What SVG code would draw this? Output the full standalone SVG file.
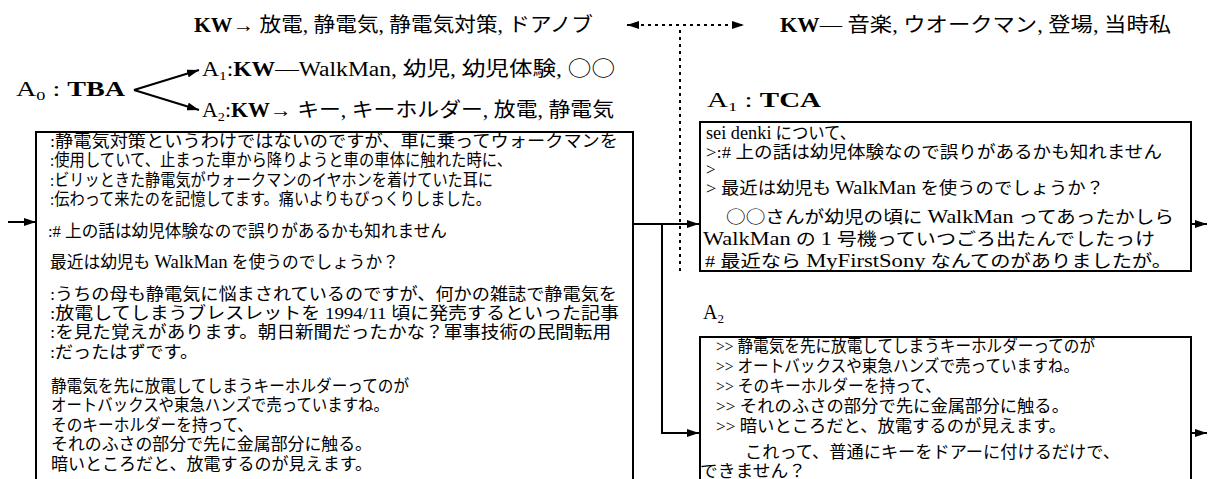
<svg xmlns="http://www.w3.org/2000/svg" width="1208" height="479" viewBox="0 0 1208 479">
<defs>
<marker id="ah" viewBox="0 0 12 8" refX="12" refY="4" markerWidth="12" markerHeight="8" markerUnits="userSpaceOnUse" orient="auto-start-reverse"><path d="M0,0 L12,4 L0,8 z" fill="#000"/></marker>
</defs>
<style>
.t{font-family:"Liberation Serif","Noto Sans CJK JP",serif;fill:#000}
.h{font-size:20px}
.j{font-family:"Liberation Serif","Noto Sans CJK JP",sans-serif;font-size:17px;fill:#000}
.l{font-size:19px}
.cj{font-family:"Noto Sans CJK JP",sans-serif}
.b{font-weight:bold}
.sub{font-size:13px}
.box{fill:#fff;stroke:#000;stroke-width:2}
.c{fill:none;stroke:#000;stroke-width:2}
.d{fill:none;stroke:#000;stroke-width:2;stroke-dasharray:3 4}
</style>

<g id="connectors">
<line class="d" x1="627" y1="25" x2="744" y2="25" marker-start="url(#ah)" marker-end="url(#ah)"/>
<line class="d" x1="680" y1="30" x2="680" y2="274"/>
<line class="c" x1="134" y1="90" x2="199" y2="70" marker-end="url(#ah)"/>
<line class="c" x1="134" y1="90" x2="199" y2="110" marker-end="url(#ah)"/>
<line class="c" x1="8" y1="222" x2="36" y2="222" marker-end="url(#ah)"/>
<line class="c" x1="633" y1="224" x2="699" y2="224" marker-end="url(#ah)"/>
<polyline class="c" points="662,224 662,433 699,433" marker-end="url(#ah)"/>
<line class="c" x1="1191" y1="224" x2="1207" y2="224" marker-end="url(#ah)"/>
<line class="c" x1="1191" y1="433" x2="1207" y2="433" marker-end="url(#ah)"/>
</g>

<g id="kw-main">
<text class="t h" x="194" y="32" textLength="399" lengthAdjust="spacingAndGlyphs"><tspan class="b">KW</tspan>→ 放電, 静電気, 静電気対策, ドアノブ</text>
</g>

<g id="kw-other">
<text class="t h" x="780" y="32" textLength="391" lengthAdjust="spacingAndGlyphs"><tspan class="b">KW</tspan>— 音楽, ウオークマン, 登場, 当時私</text>
</g>

<g id="a0">
<text class="t h" x="16" y="96" textLength="109" lengthAdjust="spacingAndGlyphs">A<tspan class="sub" dy="4">0</tspan><tspan dy="-4"> : </tspan><tspan class="b">TBA</tspan></text>
</g>

<g id="a1-kw">
<text class="t h" x="202" y="76" textLength="413" lengthAdjust="spacingAndGlyphs">A<tspan class="sub" dy="4">1</tspan><tspan dy="-4">:</tspan><tspan class="b">KW</tspan>—WalkMan, 幼児, 幼児体験, <tspan class="cj">○○</tspan></text>
</g>

<g id="a2-kw">
<text class="t h" x="202" y="117" textLength="412" lengthAdjust="spacingAndGlyphs">A<tspan class="sub" dy="4">2</tspan><tspan dy="-4">:</tspan><tspan class="b">KW</tspan>→ キー, キーホルダー, 放電, 静電気</text>
</g>

<g id="post-a0">
<rect class="box" x="36" y="132" width="597" height="360"/>
<text class="j" x="50" y="147" textLength="568" lengthAdjust="spacingAndGlyphs">:静電気対策というわけではないのですが、車に乗ってウォークマンを</text>
<text class="j" x="50" y="166" textLength="462" lengthAdjust="spacingAndGlyphs">:使用していて、止まった車から降りようと車の車体に触れた時に、</text>
<text class="j" x="50" y="186" textLength="443" lengthAdjust="spacingAndGlyphs">:ビリッときた静電気がウォークマンのイヤホンを着けていた耳に</text>
<text class="j" x="50" y="205" textLength="441" lengthAdjust="spacingAndGlyphs">:伝わって来たのを記憶してます。痛いよりもびっくりしました。</text>
<text class="j" x="48" y="237" textLength="399" lengthAdjust="spacingAndGlyphs">:# 上の話は幼児体験なので誤りがあるかも知れません</text>
<text class="j" x="50" y="268" textLength="349" lengthAdjust="spacingAndGlyphs">最近は幼児も <tspan class="l">WalkMan</tspan> を使うのでしょうか？</text>
<text class="j" x="50" y="300" textLength="567" lengthAdjust="spacingAndGlyphs">:うちの母も静電気に悩まされているのですが、何かの雑誌で静電気を</text>
<text class="j" x="50" y="319" textLength="569" lengthAdjust="spacingAndGlyphs">:放電してしまうブレスレットを 1994/11 頃に発売するといった記事</text>
<text class="j" x="50" y="338" textLength="561" lengthAdjust="spacingAndGlyphs">:を見た覚えがあります。朝日新聞だったかな？軍事技術の民間転用</text>
<text class="j" x="50" y="358" textLength="148" lengthAdjust="spacingAndGlyphs">:だったはずです。</text>
<text class="j" x="51" y="392" textLength="358" lengthAdjust="spacingAndGlyphs">静電気を先に放電してしまうキーホルダーってのが</text>
<text class="j" x="51" y="411" textLength="338" lengthAdjust="spacingAndGlyphs">オートバックスや東急ハンズで売っていますね。</text>
<text class="j" x="51" y="431" textLength="202" lengthAdjust="spacingAndGlyphs">そのキーホルダーを持って、</text>
<text class="j" x="51" y="450" textLength="321" lengthAdjust="spacingAndGlyphs">それのふさの部分で先に金属部分に触る。</text>
<text class="j" x="51" y="470" textLength="321" lengthAdjust="spacingAndGlyphs">暗いところだと、放電するのが見えます。</text>
</g>

<g id="a1">
<text class="t h" x="707" y="107" textLength="114" lengthAdjust="spacingAndGlyphs">A<tspan class="sub" dy="4">1</tspan><tspan dy="-4"> : </tspan><tspan class="b">TCA</tspan></text>
<rect class="box" x="700" y="122" width="491" height="149"/>
<text class="j" x="706" y="139" textLength="150" lengthAdjust="spacingAndGlyphs"><tspan class="l">sei denki</tspan> について、</text>
<text class="j" x="706" y="158" textLength="456" lengthAdjust="spacingAndGlyphs">&gt;:# 上の話は幼児体験なので誤りがあるかも知れません</text>
<text class="j" x="706" y="175">&gt;</text>
<text class="j" x="706" y="194" textLength="398" lengthAdjust="spacingAndGlyphs">&gt; 最近は幼児も <tspan class="l">WalkMan</tspan> を使うのでしょうか？</text>
<text class="j" x="726" y="223" textLength="448" lengthAdjust="spacingAndGlyphs"><tspan class="cj">○○</tspan>さんが幼児の頃に <tspan class="l">WalkMan</tspan> ってあったかしら</text>
<text class="j" x="703" y="245" textLength="452" lengthAdjust="spacingAndGlyphs"><tspan class="l">WalkMan</tspan> の <tspan class="l">1</tspan> 号機っていつごろ出たんでしたっけ</text>
<text class="j" x="705" y="267" textLength="467" lengthAdjust="spacingAndGlyphs"># 最近なら <tspan class="l">MyFirstSony</tspan> なんてのがありましたが。</text>
</g>

<g id="a2">
<text class="t h" x="703" y="319">A<tspan class="sub" dy="4">2</tspan></text>
<rect class="box" x="700" y="337" width="491" height="160"/>
<text class="j" x="716" y="352" textLength="379" lengthAdjust="spacingAndGlyphs">&gt;&gt; 静電気を先に放電してしまうキーホルダーってのが</text>
<text class="j" x="716" y="372" textLength="363" lengthAdjust="spacingAndGlyphs">&gt;&gt; オートバックスや東急ハンズで売っていますね。</text>
<text class="j" x="716" y="392" textLength="225" lengthAdjust="spacingAndGlyphs">&gt;&gt; そのキーホルダーを持って、</text>
<text class="j" x="716" y="412" textLength="353" lengthAdjust="spacingAndGlyphs">&gt;&gt; それのふさの部分で先に金属部分に触る。</text>
<text class="j" x="716" y="432" textLength="350" lengthAdjust="spacingAndGlyphs">&gt;&gt; 暗いところだと、放電するのが見えます。</text>
<text class="j" x="745" y="458" textLength="375" lengthAdjust="spacingAndGlyphs">これって、普通にキーをドアーに付けるだけで、</text>
<text class="j" x="700" y="477" textLength="106" lengthAdjust="spacingAndGlyphs">できません？</text>
</g>
</svg>
